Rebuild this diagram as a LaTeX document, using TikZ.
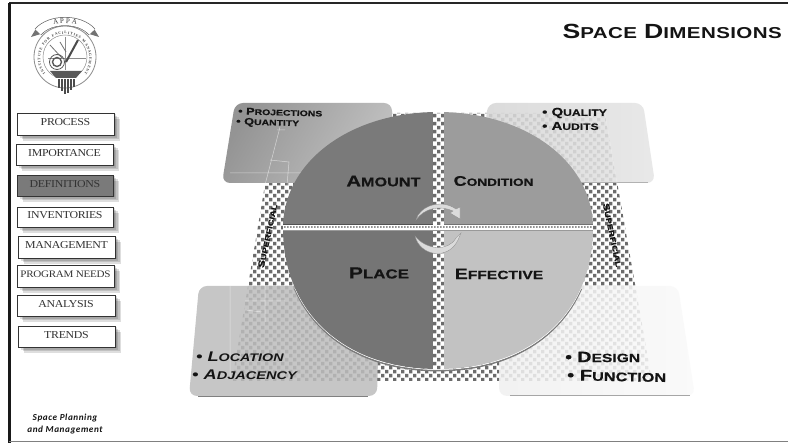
\documentclass[tikz,border=0pt]{standalone}
\usepackage{fontspec}
\setmainfont{Liberation Sans}
\newfontfamily\capfont{Liberation Sans}[FakeStretch=1.3,BoldFeatures={FakeBold=0.5}]
\newfontfamily\titlefont{Liberation Sans}[FakeStretch=1.3,LetterSpace=2.5]
\newfontfamily\navfont{Liberation Serif}[FakeStretch=1.12,LetterSpace=-3]
\newfontfamily\footfont{Carlito}[LetterSpace=6]
\newfontfamily\logofont{Liberation Serif}
\usetikzlibrary{decorations.text}
\newcommand\cc[4]{{\capfont\bfseries\fontsize{#1}{#1}\selectfont #3\fontsize{#2}{#2}\selectfont #4}}
\newcommand\tc[2]{{\titlefont\bfseries\fontsize{20.5}{21}\selectfont #1\fontsize{15.8}{16}\selectfont #2}}
\definecolor{navdark}{HTML}{333333}
\tikzset{
  x=1pt,y=-1pt,
  navbox/.style={draw=navdark,line width=0.9pt,fill=white,inner sep=0pt,text depth=3.5pt,
    font=\navfont\fontsize{10.6}{11}\selectfont,text=black!80},
  label/.style={inner sep=0pt,text=black!92},
  bigcard/.style={rounded corners=8pt},
  faint/.style={draw=white,line width=0.5pt,opacity=0.55},
}
\newcommand\navbtn[7]{% name x1 y1 x2 y2 text fill
  \foreach \o in {1.5,3,4.5,6}{\fill[black,opacity=0.13] (#2+\o,#3+\o) rectangle (#4+\o,#5+\o);}
  \node[navbox,fill=#7,minimum width=#4-#2,minimum height=#5-#3] (#1) at ({(#2+#4)/2},{(#3+#5)/2}) {#6};
}
\def\disc{(283,228) .. controls (283,162) and (350,112) .. (438,112) .. controls (526,112) and (593,162) .. (593,228) .. controls (593,313) and (531,369) .. (438,369) .. controls (345,369) and (283,313) .. (283,228) -- cycle}
\begin{document}
\begin{tikzpicture}
\useasboundingbox (0,0) rectangle (788,443);
\fill[white] (0,0) rectangle (788,443);
% frame
\draw[line width=2pt,black!85] (9,3) -- (788,3);
\draw[line width=2.4pt,black!90] (9.5,3) -- (9.5,443);
\draw[line width=0.8pt,black!50] (9,441.5) -- (788,441.5);
% logo
\begin{scope}
 \fill[black!55] (31,37) -- (37,27) -- (44,33) -- cycle;
 \fill[black!55] (99,37) -- (93,27) -- (86,33) -- cycle;
 \draw[black!45,line width=0.8pt,fill=white] (65,57) circle [radius=31pt];
 \draw[black!45,line width=0.5pt] (65,57) circle [radius=22pt];
 \draw[black!60,line width=9pt] (38,32) .. controls (50,18) and (80,18) .. (92,32);
 \draw[white,line width=7.6pt] (38,32) .. controls (50,18) and (80,18) .. (92,32);
 \path[decorate,decoration={text along path,text align=center,
   text={|\logofont\fontsize{7}{7}\selectfont\color{black!80}|A P P A}}] (40,31.5) .. controls (50,20.5) and (80,20.5) .. (90,31.5);
 \path[decorate,decoration={text along path,text align=fit to path,
   text={|\logofont\bfseries\fontsize{3.7}{4}\selectfont\color{black!75}|INSTITUTE FOR FACILITIES MANAGEMENT}}]
   (45.5,73.5) arc [start angle=218,end angle=-38,radius=24.5pt];
 \draw[black!45,line width=0.5pt] (65,37) -- (65,70) (48,58) -- (86,58);
 \draw[black!70,line width=2pt] (66,62) -- (78,40);
 \draw[black!55,line width=0.8pt] (50,45) -- (62,58) (60,42) -- (66,52);
 \draw[black!65,line width=1.4pt] (57,62) circle [radius=4.5pt];
 \draw[black!65,line width=0.8pt] (57,62) circle [radius=7.5pt];
 \fill[black!65] (50,71) -- (82,71) -- (76,78) -- (56,78) -- cycle;
 \fill[white] (57,78) rectangle (75,84);
 \foreach \cx in {58,61,64,67,70,73}{\fill[black!70] (\cx,79) rectangle ++(1.9,{16-abs(\cx-65)});}
\end{scope}
% nav
\navbtn{nprocess}{17}{113}{114}{135}{PROCESS}{white}
\navbtn{nimport}{16}{144}{113}{165}{IMPORTANCE}{white}
\navbtn{ndefs}{17}{175}{113}{196}{DEFINITIONS}{black!52}
\navbtn{ninvent}{17}{207}{113}{227}{INVENTORIES}{white}
\navbtn{nmanage}{18}{236}{115}{258}{MANAGEMENT}{white}
\navbtn{nprogram}{17}{265}{114}{287}{{\fontsize{9.9}{11}\selectfont PROGRAM NEEDS}}{white}
\navbtn{nanalysis}{17}{295}{115}{316}{ANALYSIS}{white}
\navbtn{ntrends}{18}{326}{115}{347}{TRENDS}{white}
% footer
\node[label,font=\footfont\bfseries\itshape\fontsize{9.2}{10}\selectfont] (foot1) at (65,418) {Space Planning};
\node[label,font=\footfont\bfseries\itshape\fontsize{9.2}{10}\selectfont] (foot2) at (65,430) {and Management};
% title
\node[label,anchor=east] (title) at (782,31) {\tc{S}{PACE}\hspace{7pt}\tc{D}{IMENSIONS}};
% checker
\begin{scope}
 \clip (277,113) -- (605,113) -- (652,381) -- (232,381) -- cycle;
 \fill[white] (225,110) rectangle (660,385);
 \fill[black!58] foreach \i in {0,...,109} {foreach \j in {0,...,69} {
    \ifodd\numexpr\i+\j\relax (225+4*\i,110+4*\j) rectangle ++(3.4,3.4) \fi }};
\end{scope}
% cards
\path[bigcard,left color=black!42,right color=black!24,shading angle=60] (235,103) -- (392,103) -- (392,183) -- (222,183) -- cycle;
\draw[faint] (280,127) -- (265,185) (270,160) -- (289,162) -- (287,185) (230,173) -- (320,173) (277,130) -- (285,130);
\path[bigcard,fill opacity=0.88,left color=black!16,right color=black!10] (488,103) -- (643,103) -- (655,183) -- (478,183) -- cycle;
\draw[black!30,line width=0.6pt] (520,182.6) -- (648,182.6);
\draw[faint,black!5] (605,113) -- (617,183);
\path[bigcard,fill opacity=0.86,fill=black!26] (199,286) -- (380,286) -- (377,396) -- (189,396) -- cycle;
\draw[black!50,line width=0.7pt] (198,396) -- (368,396);
\draw[faint] (230,286) -- (230,380) (245,301) -- (285,301) (265,286) -- (265,322) (245,310) -- (262,312);
\path[bigcard,fill opacity=0.86,left color=black!6,right color=black!2] (480,286) -- (678,286) -- (695,396) -- (499,396) -- (499,340) -- cycle;
\draw[black!35,line width=0.7pt] (510,395.6) -- (690,395.6);
% disc rim
\begin{scope}
 \clip (270,290) rectangle (600,380);
 \draw[black!52,line width=1.6pt,yshift=-1.6pt] \disc;
 \draw[white,line width=0.7pt,yshift=-0.4pt] \disc;
\end{scope}
\begin{scope}
 \clip \disc;
 \fill[black!52] (280,110) rectangle (433,225);
 \fill[black!39] (444,110) rectangle (596,225);
 \fill[black!54] (280,231) rectangle (433,372);
 \fill[black!24] (444,231) rectangle (596,372);
 \fill[white] (280,225) rectangle (596,231);
 \fill[black!68] (280,224) rectangle (433,225.2);
 \fill[black!55] (444,224) rectangle (596,225.2);
 \fill[black!65] foreach \i in {0,...,105} {(281+3*\i,226.5) rectangle ++(1.6,1.2)} ;
 \fill[black!40] (280,230.4) rectangle (596,231);
\end{scope}
% arrows
\path[fill=black!14,draw=black!45,line width=0.3pt] (416,220) .. controls (419,207) and (440,198) .. (456,209) -- (460,207) -- (460,219) -- (450,213) -- (453,211) .. controls (440,205) and (424,208) .. (416,220) -- cycle;
\path[fill=black!14,draw=black!45,line width=0.3pt] (415,236) .. controls (420,256) and (448,261) .. (458,240) -- (461,233) -- (456,238) .. controls (448,252) and (426,250) .. (415,236) -- cycle;
% labels
\node[label] (amount) at (383.5,181) {\cc{15.5}{12.5}{A}{MOUNT}};
\node[label] (condition) at (493.5,181) {\cc{14}{10.5}{C}{ONDITION}};
\node[label] (place) at (379,273) {\cc{16}{13}{P}{LACE}};
\node[label] (effective) at (499,274) {\cc{15}{12}{E}{FFECTIVE}};
\node[label,rotate=-1.5,anchor=west] (proj) at (238,111) {\cc{9.8}{8}{• P}{ROJECTIONS}};
\node[label,rotate=-1.5,anchor=west] (quant) at (236,122) {\cc{9.8}{8}{• Q}{UANTITY}};
\node[label,anchor=west] (quality) at (542,113) {\cc{11.5}{9.3}{• Q}{UALITY}};
\node[label,anchor=west] (audits) at (542,126) {\cc{11.5}{9.3}{• A}{UDITS}};
\node[label,anchor=west] (location) at (196,357) {{\itshape\cc{14}{11}{• L}{OCATION}}};
\node[label,anchor=west] (adjacency) at (192,375) {{\itshape\cc{14}{11.2}{• A}{DJACENCY}}};
\node[label,anchor=west] (design) at (565,357) {\cc{15}{12}{• D}{ESIGN}};
\node[label,anchor=west,rotate=-1] (function) at (567,375) {\cc{15.5}{12.5}{• F}{UNCTION}};
\node[label,rotate=78] (supl) at (267.5,236) {\cc{9}{7.3}{S}{UPERFICIAL}};
\node[label,rotate=-78] (supr) at (612.5,235) {\cc{9}{7.3}{S}{UPERFICIAL}};
\end{tikzpicture}
\end{document}
